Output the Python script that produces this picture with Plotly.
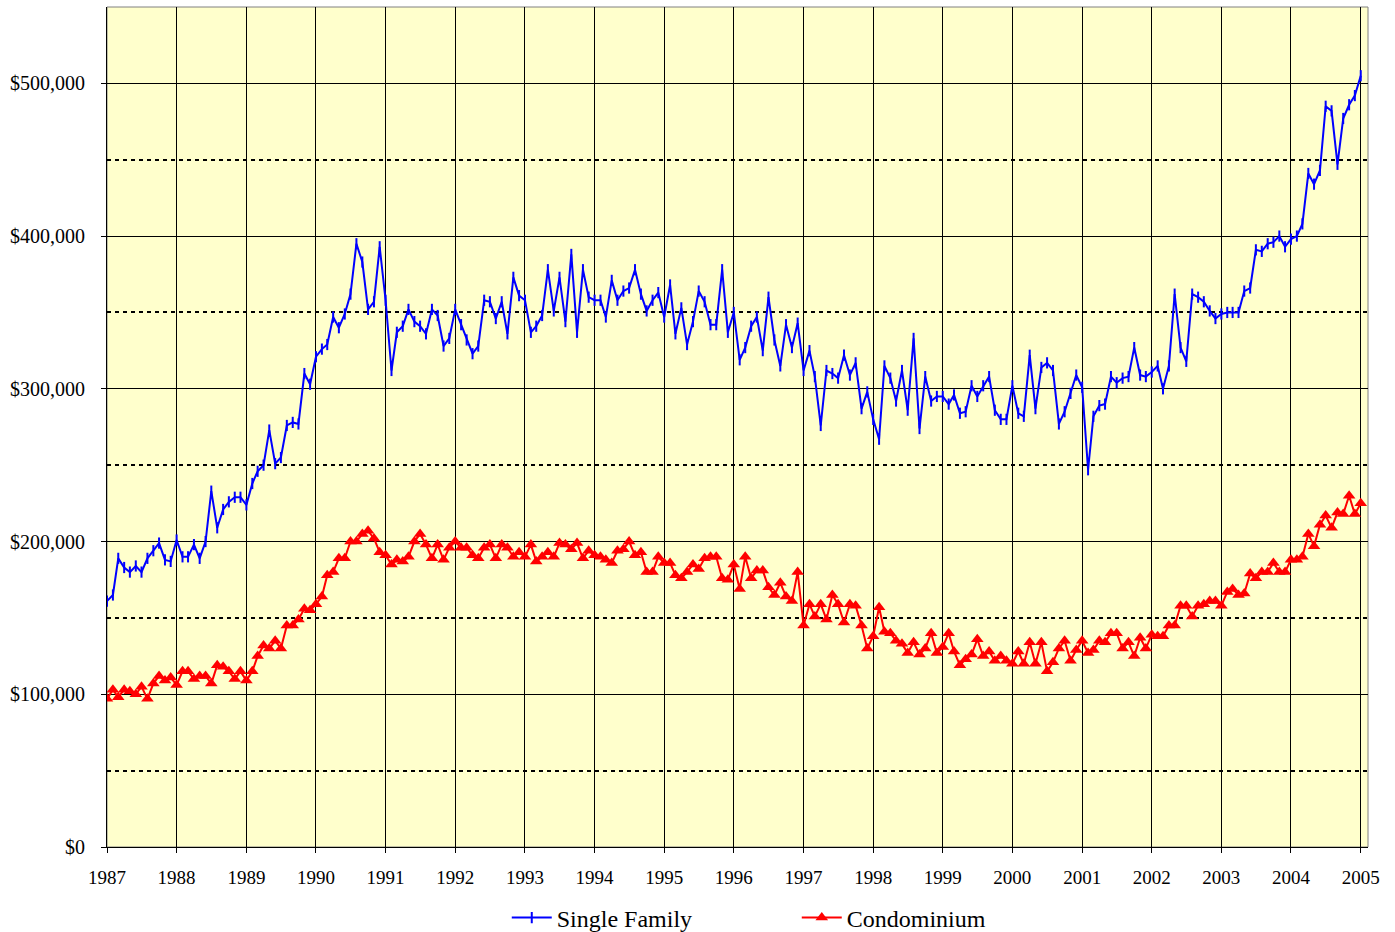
import plotly.graph_objects as go
import pandas as pd

months = pd.date_range("1987-01-01", periods=217, freq="MS")

# Median prices, thousands of dollars, monthly Jan 1987 - Jan 2005
single_family_k = [
    161, 165, 189, 183, 180, 184, 180, 189, 194, 199, 188, 187,
    201, 190, 190, 198, 189, 200, 233, 209, 221, 226, 229, 229,
    224, 238, 246, 250, 273, 251, 255, 276, 278, 277, 310, 303,
    321, 326, 329, 347, 340, 349, 362, 395, 383, 352, 357, 393,
    358, 312, 337, 341, 352, 344, 341, 336, 352, 348, 328, 333,
    352, 342, 332, 323, 328, 358, 357, 346, 357, 336, 373, 361,
    358, 337, 341, 348, 378, 351, 373, 344, 388, 337, 378, 360,
    358, 358, 347, 371, 358, 364, 366, 378, 362, 351, 358, 363,
    347, 368, 336, 353, 329, 344, 364, 357, 342, 342, 378, 337,
    350, 319, 327, 341, 347, 325, 360, 332, 315, 342, 327, 343,
    312, 325, 308, 276, 312, 310, 307, 322, 309, 317, 287, 298,
    280, 267, 315, 307, 292, 312, 286, 333, 274, 308, 292, 295,
    295, 290, 296, 284, 285, 302, 295, 302, 308, 286, 280, 280,
    302, 284, 282, 322, 287, 314, 317, 312, 277, 285, 297, 309,
    301, 247, 282, 289, 290, 308, 304, 307, 308, 327, 309, 308,
    311, 315, 300, 315, 362, 327, 318, 362, 360, 357, 351, 346,
    349, 350, 350, 350, 364, 366, 391, 390, 395, 396, 400, 393,
    398, 400, 408, 441, 434, 443, 485, 482, 447, 477, 486, 492,
    505,
]

condominium_k = [
    97, 103, 98, 103, 102, 100, 105, 97, 107, 112, 109, 111,
    106, 115, 115, 110, 112, 112, 107, 119, 118, 115, 110, 115,
    109, 115, 125, 132, 130, 135, 130, 145, 145, 149, 156, 155,
    159, 164, 178, 180, 189, 189, 200, 200, 205, 207, 202, 193,
    191, 185, 188, 187, 190, 200, 205, 198, 189, 198, 188, 196,
    200, 196, 196, 191, 189, 196, 198, 189, 198, 196, 190, 193,
    190, 198, 187, 190, 193, 190, 199, 198, 195, 199, 189, 194,
    191, 190, 188, 186, 194, 195, 200, 191, 193, 180, 180, 190,
    186, 186, 178, 176, 180, 185, 182, 189, 190, 190, 176, 175,
    185, 169, 190, 176, 181, 181, 170, 165, 173, 164, 161, 180,
    145, 159, 151, 159, 149, 165, 159, 147, 159, 158, 145, 130,
    138, 157, 141, 140, 135, 133, 127, 134, 126, 130, 140, 127,
    131, 140, 128, 119, 123, 126, 136, 125, 128, 122, 125, 122,
    120, 128, 120, 134, 120, 134, 115, 121, 130, 135, 122, 129,
    135, 127, 129, 135, 134, 140, 140, 130, 134, 125, 137, 130,
    139, 138, 138, 145, 145, 158, 158, 151, 158, 159, 161, 161,
    158, 167, 169, 165, 166, 179, 176, 180, 180, 186, 180, 180,
    188, 188, 190, 205, 197, 211, 217, 209, 219, 218, 230, 218,
    225,
]

series_names = ["Single Family", "Condominium"]

sf = [v * 1000 for v in single_family_k]
condo = [v * 1000 for v in condominium_k]

FONT = "Liberation Serif, Times New Roman, serif"

fig = go.Figure()
fig.add_trace(go.Scatter(
    x=months, y=sf, name=series_names[0], mode="lines+markers",
    line=dict(color="#0000FF", width=2),
    marker=dict(symbol="line-ns-open", size=8, color="#0000FF",
                line=dict(color="#0000FF", width=2)),
))
fig.add_trace(go.Scatter(
    x=months, y=condo, name=series_names[1], mode="lines+markers",
    line=dict(color="#FF0000", width=2),
    marker=dict(symbol="triangle-up", size=11, color="#FF0000",
                line=dict(width=0)),
))

fig.update_layout(
    width=1395, height=932,
    margin=dict(l=107, r=27, t=7, b=85, autoexpand=False),
    paper_bgcolor="white",
    plot_bgcolor="#FFFFCC",
    font=dict(family=FONT, size=19, color="black"),
    showlegend=True,
    legend=dict(orientation="h", x=0.547, xanchor="center",
                yref="container", y=0.015, yanchor="middle",
                font=dict(family=FONT, size=24), entrywidth=235, itemwidth=40,
                bgcolor="rgba(0,0,0,0)"),
    xaxis=dict(
        type="date",
        range=["1987-01-01", "2005-02-08"],
        tick0="1987-01-01", dtick="M12", tickformat="%Y",
        showgrid=True, gridcolor="black", gridwidth=1,
        showline=True, linecolor="black", linewidth=1, mirror=False,
        ticks="outside", ticklen=5, tickcolor="black",
        ticklabelstandoff=8,
        tickfont=dict(size=19),
        zeroline=False,
    ),
    yaxis=dict(
        range=[0, 550000],
        tick0=0, dtick=100000,
        tickprefix="$", tickformat=",d",
        showgrid=True, gridcolor="black", gridwidth=1,
        showline=True, linecolor="black", linewidth=1,
        ticks="outside", ticklen=5, tickcolor="black",
        ticklabelstandoff=12,
        tickfont=dict(size=20),
        zeroline=False,
        minor=dict(dtick=50000, tick0=0, showgrid=True, gridcolor="black",
                   gridwidth=2, griddash="4px,4px", ticks=""),
    ),
    shapes=[dict(type="rect", xref="paper", yref="paper", x0=0, x1=1, y0=0, y1=1,
                 line=dict(color="#808080", width=1), layer="below")],
)

fig.write_html("out.html", config={"displayModeBar": False},
               post_script="document.body.style.margin='0px';")
